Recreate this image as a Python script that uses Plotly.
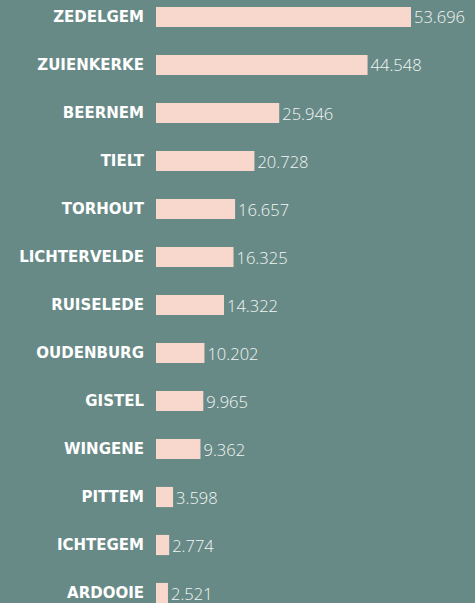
import plotly.graph_objects as go

categories = ["ZEDELGEM", "ZUIENKERKE", "BEERNEM", "TIELT", "TORHOUT", "LICHTERVELDE",
              "RUISELEDE", "OUDENBURG", "GISTEL", "WINGENE", "PITTEM", "ICHTEGEM", "ARDOOIE"]
values = [53696, 44548, 25946, 20728, 16657, 16325, 14322, 10202, 9965, 9362, 3598, 2774, 2521]

BG = "#688a86"
BAR = "#f8d8cc"

fig = go.Figure(go.Bar(
    x=values,
    y=list(range(len(categories))),
    orientation="h",
    width=0.42,
    marker=dict(color=BAR, line=dict(width=0)),
    texttemplate="%{x:,}",
    textposition="outside",
    constraintext="none",
    cliponaxis=False,
    textfont=dict(family="Open Sans", size=16.5, color="#f2f6f5", weight=300),
))

fig.update_layout(
    width=475, height=603,
    margin=dict(l=156, r=0, t=0, b=0),
    paper_bgcolor=BG, plot_bgcolor=BG,
    separators=",.",
    showlegend=False,
    xaxis=dict(range=[0, 67172], visible=False, fixedrange=True),
    yaxis=dict(
        range=[12.208, -0.354],
        tickmode="array",
        tickvals=list(range(len(categories))),
        ticktext=categories,
        ticks="",
        ticklabelstandoff=11,
        showgrid=False, zeroline=False, showline=False,
        tickfont=dict(family="DejaVu Sans", size=15, color="#ffffff", weight=800),
    ),
)

fig.write_html(
    "out.html",
    config={"displayModeBar": False},
    post_script="document.body.style.margin='0';document.body.style.overflow='hidden';",
)
